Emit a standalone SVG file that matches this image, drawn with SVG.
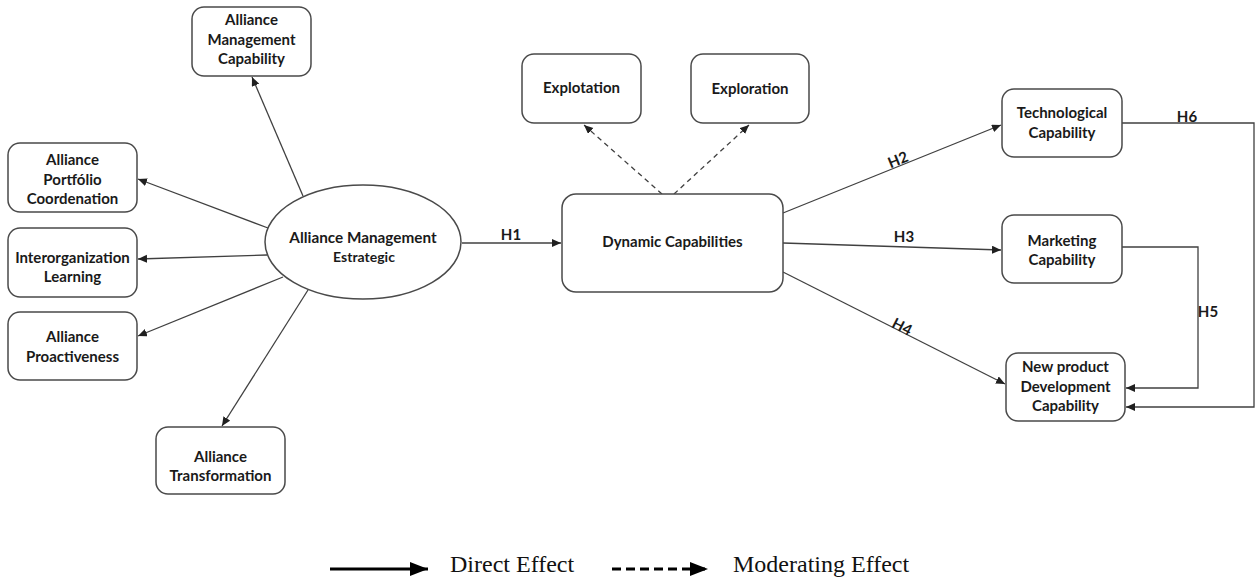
<svg xmlns="http://www.w3.org/2000/svg" width="1257" height="578" viewBox="0 0 1257 578">
<style>
.box{fill:#fff;stroke:#4a4a4a;stroke-width:1.5}
.t{font-family:Lato,"Open Sans","Liberation Sans",sans-serif;font-weight:bold;font-size:15px;fill:#1a1a1a;text-anchor:middle}
.big{font-size:15.3px}
.small{font-size:14px}
.c{fill:none;stroke:#404040;stroke-width:1.3}
.d{stroke-dasharray:5 4}
.lg{font-family:"Liberation Serif","Times New Roman",serif;font-size:24px;fill:#111}
</style>
<defs>
<marker id="a" markerUnits="userSpaceOnUse" markerWidth="10" markerHeight="10" refX="9" refY="4" orient="auto">
<path d="M0,0 L9,4 L0,8 z" fill="#202020"/>
</marker>
<marker id="la" markerUnits="userSpaceOnUse" markerWidth="20" markerHeight="16" refX="18" refY="7" orient="auto">
<path d="M0,0 L18,7 L0,14 z" fill="#000"/>
</marker>
</defs>
<rect width="1257" height="578" fill="#fff"/>

<g id="connectors">
<path class="c" d="M462 243 L561 243" marker-end="url(#a)"/>
<path class="c d" d="M662 194 L584 125" marker-end="url(#a)"/>
<path class="c d" d="M674 194 L749 125" marker-end="url(#a)"/>
<path class="c" d="M783 213 L1001 125" marker-end="url(#a)"/>
<path class="c" d="M783 243 L1001 250" marker-end="url(#a)"/>
<path class="c" d="M783 272 L1005 384" marker-end="url(#a)"/>
<path class="c" d="M1122 247 H1198 V388 H1126" marker-end="url(#a)"/>
<path class="c" d="M1122 123 H1254 V407 H1126" marker-end="url(#a)"/>
<path class="c" d="M303 196 L252 77" marker-end="url(#a)"/>
<path class="c" d="M268 228 L138 179" marker-end="url(#a)"/>
<path class="c" d="M267 255 L138 259" marker-end="url(#a)"/>
<path class="c" d="M283 277 L138 336" marker-end="url(#a)"/>
<path class="c" d="M308 290 L222 426" marker-end="url(#a)"/>
<text class="t" x="511" y="240">H1</text>
<text class="t" x="898" y="165" transform="rotate(-22 898 160)">H2</text>
<text class="t" x="904" y="242">H3</text>
<text class="t" x="902" y="332" transform="rotate(27 902 327)">H4</text>
<text class="t" x="1208" y="317">H5</text>
<text class="t" x="1187" y="122">H6</text>
</g>

<g id="ams">
<ellipse cx="363" cy="242" rx="98" ry="57" class="box"/>
<text class="t big" x="363" y="243">Alliance Management</text>
<text class="t small" x="364" y="262">Estrategic</text>
</g>
<g id="amc">
<rect class="box" x="192" y="7" width="119" height="69" rx="12"/>
<text class="t" x="251.5" y="25">Alliance</text>
<text class="t" x="251.5" y="44.5">Management</text>
<text class="t" x="251.5" y="64">Capability</text>
</g>
<g id="apc">
<rect class="box" x="8" y="143" width="129" height="69" rx="12"/>
<text class="t" x="72.5" y="165">Alliance</text>
<text class="t" x="72.5" y="184.5">Portfólio</text>
<text class="t" x="72.5" y="204">Coordenation</text>
</g>
<g id="il">
<rect class="box" x="8" y="228" width="129" height="69" rx="12"/>
<text class="t" x="72.5" y="263">Interorganization</text>
<text class="t" x="72.5" y="282">Learning</text>
</g>
<g id="ap">
<rect class="box" x="8" y="312" width="129" height="68" rx="12"/>
<text class="t" x="72.5" y="342">Alliance</text>
<text class="t" x="72.5" y="362">Proactiveness</text>
</g>
<g id="at">
<rect class="box" x="156" y="427" width="129" height="67" rx="12"/>
<text class="t" x="220.5" y="462">Alliance</text>
<text class="t" x="220.5" y="481">Transformation</text>
</g>
<g id="explotation">
<rect class="box" x="522" y="54" width="119" height="69" rx="12"/>
<text class="t" x="581.5" y="93">Explotation</text>
</g>
<g id="exploration">
<rect class="box" x="691" y="54" width="118" height="69" rx="12"/>
<text class="t" x="750" y="94">Exploration</text>
</g>
<g id="dc">
<rect class="box" x="562" y="194" width="221" height="98" rx="14"/>
<text class="t" x="672.5" y="247">Dynamic Capabilities</text>
</g>
<g id="tc">
<rect class="box" x="1002" y="89" width="120" height="68" rx="12"/>
<text class="t" x="1062" y="118">Technological</text>
<text class="t" x="1062" y="138">Capability</text>
</g>
<g id="mc">
<rect class="box" x="1002" y="215" width="120" height="68" rx="12"/>
<text class="t" x="1062" y="246">Marketing</text>
<text class="t" x="1062" y="265">Capability</text>
</g>
<g id="npd">
<rect class="box" x="1006" y="353" width="119" height="68" rx="12"/>
<text class="t" x="1065.5" y="372">New product</text>
<text class="t" x="1065.5" y="391.5">Development</text>
<text class="t" x="1065.5" y="411">Capability</text>
</g>

<g id="legend">
<path d="M330 569 L428 569" stroke="#000" stroke-width="3" fill="none" marker-end="url(#la)"/>
<text class="lg" x="450" y="572">Direct Effect</text>
<path d="M612 569 L708 569" stroke="#000" stroke-width="3" stroke-dasharray="9 5" fill="none" marker-end="url(#la)"/>
<text class="lg" x="733" y="572">Moderating Effect</text>
</g>
</svg>
